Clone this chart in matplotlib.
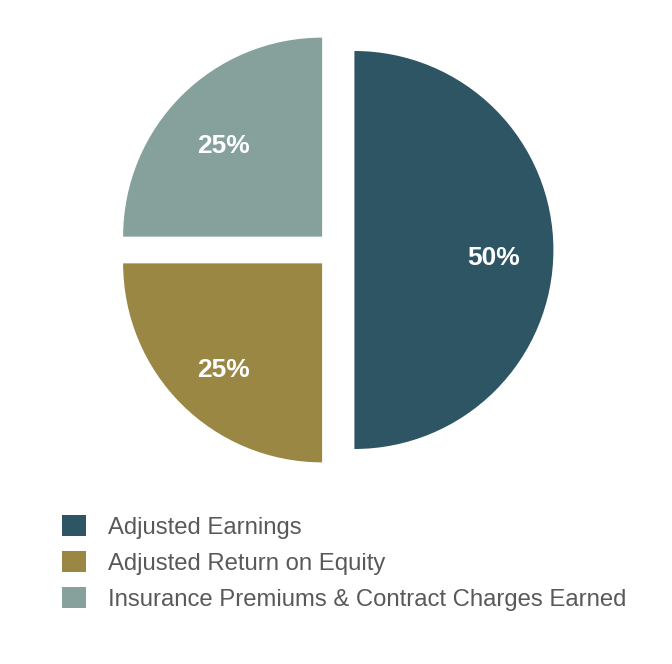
import matplotlib.pyplot as plt
from matplotlib.patches import Patch

labels = ['Adjusted Earnings', 'Adjusted Return on Equity',
          'Insurance Premiums & Contract Charges Earned']
shares = [50, 25, 25]
colors = ['#2e5564', '#9a8744', '#86a09c']

plt.rcParams['font.family'] = ['Liberation Sans', 'DejaVu Sans']

W, H = 672, 664
fig = plt.figure(figsize=(W / 100, H / 100), dpi=100)
ax = fig.add_axes([0, 0, 1, 1])

# pie centre and radius in pixels
cx, cy, r = 335.5, 250, 199
wedges, texts, autotexts = ax.pie(
    shares, colors=colors, startangle=90, counterclock=False,
    explode=[0.095] * 3, autopct='%d%%', pctdistance=0.7,
    textprops=dict(color='white', fontsize=19, fontweight='bold'))
# labels sit a bit lower than the wedge centroids
for t in autotexts:
    x, y = t.get_position()
    t.set_position((x, y - 8 / r))
ax.set_xlim(-cx / r, (W - cx) / r)
ax.set_ylim(-(H - cy) / r, cy / r)
ax.set_aspect('auto')
ax.axis('off')

handles = [Patch(facecolor=c, edgecolor='none') for c in colors]
leg = fig.legend(handles, labels, loc='upper left',
                 bbox_to_anchor=(62 / W, 1 - 515 / H), frameon=False,
                 fontsize=17.2, handlelength=1.0, handleheight=1.0,
                 handletextpad=0.92, labelspacing=0.5,
                 borderpad=0, borderaxespad=0)
for t in leg.get_texts():
    t.set_color('#595959')

fig.savefig('out.png', dpi=100)
